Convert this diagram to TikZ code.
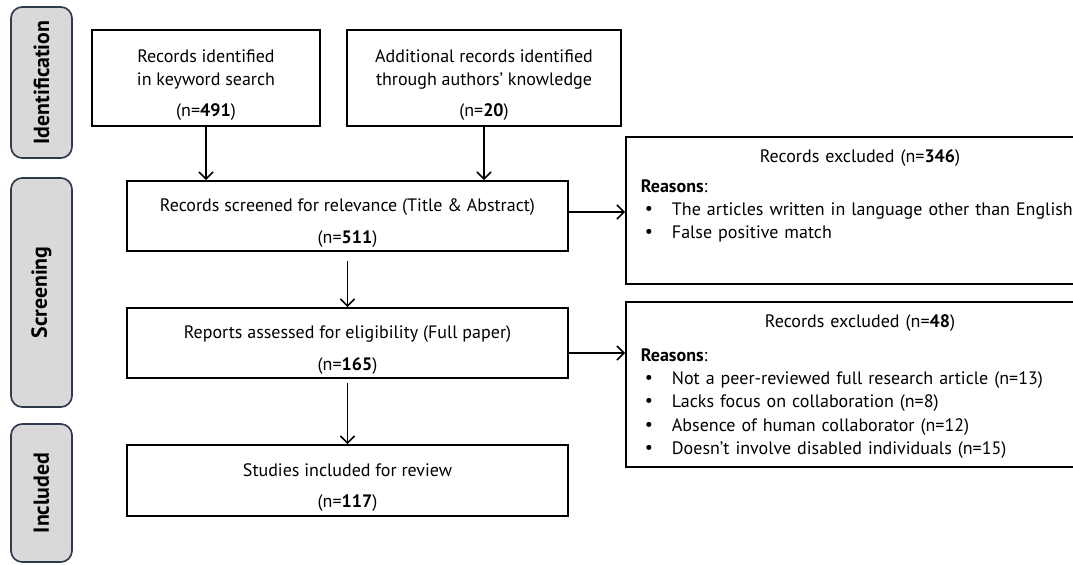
\documentclass[tikz,border=0pt]{standalone}
\usepackage{fontspec}
\setmainfont{PT Sans}
\usetikzlibrary{arrows.meta}
\definecolor{phasefill}{HTML}{D9D9D9}
\definecolor{phaseline}{HTML}{2F3B4C}
\newcommand{\reason}[1]{\makebox[0.775cm][l]{\hspace{0.1cm}\raisebox{0.1ex}{\textbullet}}\mbox{#1}}
\newcommand{\topgap}{\rule{0pt}{1.5em}}
\tikzset{
  box/.style={draw, line width=1.3pt, align=center, inner sep=0pt},
  exbox/.style={draw, line width=1.3pt, inner sep=0pt},
  phase/.style={draw=phaseline, fill=phasefill, rounded corners=8pt, line width=1.2pt, rotate=90, font=\bfseries\fontsize{15.5}{18}\selectfont},
  arr/.style={-{Straight Barb[length=5pt,width=10pt]}, line width=1.1pt},
}
\begin{document}
\begin{tikzpicture}[x=0.025cm, y=-0.025cm, font=\fontsize{12.8}{16.5}\selectfont]
\useasboundingbox (0,0) rectangle (1073,565);
\clip (0,0) rectangle (1073,565);
% Phases
\node[phase, minimum width=3.775cm, minimum height=1.525cm] (ident) at (41.5,82.5) {Identification};
\node[phase, minimum width=5.725cm, minimum height=1.525cm] (screen) at (41.5,292.5) {Screening};
\node[phase, minimum width=3.45cm, minimum height=1.525cm] (incl) at (41.5,493) {Included};

% Identification
\node[box, minimum width=5.7cm, minimum height=2.4cm] (search) at (206,78) {\topgap Records identified\\in keyword search\\[6pt](n=\textbf{491})};
\node[box, minimum width=6.85cm, minimum height=2.4cm] (extra) at (484,78) {\topgap Additional records identified\\through authors' knowledge\\[6pt](n=\textbf{20})};

% Screening
\node[box, minimum width=11.025cm, minimum height=1.75cm] (screened) at (347.5,216) {\topgap Records screened for relevance (Title \& Abstract)\\[6pt](n=\textbf{511})};
\node[box, minimum width=11.025cm, minimum height=1.75cm] (assessed) at (347.5,343) {\topgap Reports assessed for eligibility (Full paper)\\[6pt](n=\textbf{165})};

% Included
\node[box, minimum width=11.025cm, minimum height=1.775cm] (included) at (347.5,480.5) {\topgap Studies included for review\\[6pt](n=\textbf{117})};

% Excluded
\node[exbox, minimum width=11.7cm, minimum height=3.675cm] (excl1) at (860,210.5) {};
\node[anchor=north, text width=10.95cm, align=left, inner sep=0pt] (excl1txt) at ([yshift=-0.32cm]excl1.north) {\makebox[\hsize]{Records excluded (n=\textbf{346})}\\[5pt]
\textbf{Reasons}:\\
\reason{The articles written in language other than English}\\
\reason{False positive match}};
\node[exbox, minimum width=11.7cm, minimum height=4.125cm] (excl2) at (860,384.5) {};
\node[anchor=north, text width=10.95cm, align=left, inner sep=0pt] (excl2txt) at ([yshift=-0.32cm]excl2.north) {\makebox[\hsize]{Records excluded (n=\textbf{48})}\\[8pt]
\textbf{Reasons}:\\
\reason{Not a peer-reviewed full research article (n=13)}\\
\reason{Lacks focus on collaboration (n=8)}\\
\reason{Absence of human collaborator (n=12)}\\
\reason{Doesn't involve disabled individuals (n=15)}};

% Arrows
\draw[arr] (search.south) -- (search.south |- screened.north);
\draw[arr] (extra.south) -- (extra.south |- screened.north);
\draw[arr, shorten <=0.225cm] (screened.south) -- (assessed.north);
\draw[arr, shorten <=0.1cm] (assessed.south) -- (included.north);
\draw[arr] ([yshift=0.1cm]screened.east) -- ([yshift=0.1cm]screened.east -| excl1.west);
\draw[arr] ([yshift=-0.25cm]assessed.east) -- ([yshift=-0.25cm]assessed.east -| excl2.west);
\end{tikzpicture}
\end{document}
